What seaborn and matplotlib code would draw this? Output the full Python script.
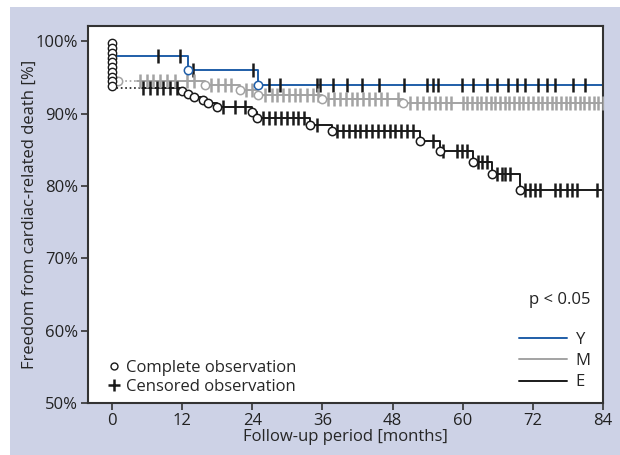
import numpy as np
import pandas as pd
import matplotlib
matplotlib.use("Agg")
import matplotlib.pyplot as plt
from matplotlib.lines import Line2D
from matplotlib.patches import Rectangle
import seaborn as sns

# Data, months / survival in %
groups = ["Y", "M", "E"]
colors = {"Y": "#1f5ea8", "M": "#a3a3a3", "E": "#1a1a1a"}

y_times = [0, 13.0, 25.0, 84]
y_surv = [98.0, 96.0, 94.0, 94.0]
y_events = [13.0, 25.0]
y_cens = [7.9, 11.6, 13.9, 24.1, 26.9, 28.8, 35.1, 35.6, 37.8, 40.2, 42.8, 45.7,
          50.0, 53.9, 54.9, 55.8, 59.9, 61.8, 64.2, 65.9, 67.8, 69.3, 70.7, 72.9,
          74.4, 75.8, 78.9, 80.9]

m_start = 4.3
m_times = [4.3, 15.9, 21.9, 25.0, 35.9, 49.8, 84]
m_surv = [94.5, 94.0, 93.2, 92.6, 92.0, 91.5, 91.5]
m_events = [15.9, 21.9, 25.0, 35.9, 49.8]
m_cens = [4.8, 6.0, 7.0, 8.2, 9.4, 10.8, 12.8, 14.0, 17.0, 18.2, 19.4, 20.4, 23.0,
          24.0, 26.2, 27.3, 28.2, 29.3, 30.2, 31.3, 32.2, 33.3, 34.4, 35.2, 37.0,
          38.0, 39.0, 40.0, 41.0, 42.0, 43.0, 44.0, 45.0, 46.0, 47.0, 49.0, 51.0,
          52.2, 53.2, 54.2, 55.2, 56.2, 57.2, 58.0, 60.0, 60.8, 61.6, 62.4, 63.2,
          64.0, 64.8, 65.6, 66.4, 67.2, 68.0, 68.8, 69.6, 70.4, 71.2, 72.0, 72.8,
          73.6, 74.4, 75.2, 76.0, 76.8, 77.6, 78.4, 79.2, 80.0, 80.8, 81.6, 82.4,
          83.2, 84.0]

e_start = 5.1
e_times = [5.1, 12.0, 13.0, 14.0, 15.5, 16.5, 18.0, 24.0, 24.8, 33.9, 37.6, 52.7,
           56.1, 61.8, 65.0, 69.8, 84]
e_surv = [93.6, 93.1, 92.7, 92.3, 91.9, 91.5, 90.9, 90.2, 89.4, 88.4, 87.6, 86.2,
          84.8, 83.3, 81.6, 79.5, 79.5]
e_events = [12.0, 13.0, 14.0, 15.5, 16.5, 18.0, 24.0, 24.8, 33.9, 37.6, 52.7,
            56.1, 61.8, 65.0, 69.8]
e_cens = [5.3, 6.5, 7.7, 8.7, 9.9, 11.1, 19.0, 21.0, 22.8, 25.8, 26.9, 27.9, 28.9,
          29.9, 31.0, 31.8, 32.8, 35.0, 38.5, 39.5, 40.5, 41.5, 42.5, 43.5, 44.5,
          45.5, 46.5, 47.5, 48.5, 49.5, 50.5, 51.5, 54.9, 56.6, 59.0, 59.9, 60.7,
          62.6, 63.3, 64.2, 65.9, 66.7, 67.2, 68.1, 70.7, 71.5, 72.4, 73.2, 75.8,
          76.6, 77.8, 78.7, 79.6, 83.0]

# circles stacked at time zero
zero_events = [99.7, 99.0, 98.4, 97.7, 97.1, 96.4, 95.8, 95.1, 94.5, 93.8]
m_zero_event = (1.0, 94.5)

curves = {
    "Y": (y_times, y_surv, y_events, y_cens),
    "M": (m_times, m_surv, m_events, m_cens),
    "E": (e_times, e_surv, e_events, e_cens),
}


def surv_at(times, surv, t):
    i = np.searchsorted(times, t, side="right") - 1
    return np.array(surv)[np.clip(i, 0, len(surv) - 1)]


rows = []
for g in groups:
    for t, s in zip(curves[g][0], curves[g][1]):
        rows.append({"t": t, "s": s, "group": g})
df = pd.DataFrame(rows)

sns.set_style("ticks")
plt.rcParams["font.family"] = ["Open Sans", "DejaVu Sans"]
fs = 12

fig = plt.figure(figsize=(6.2, 4.55), dpi=100, facecolor="white")
fig.patches.append(Rectangle((10 / 620, 0), 1 - 10 / 620, 1 - 7 / 455,
                             transform=fig.transFigure, facecolor="#cdd2e6",
                             edgecolor="none", zorder=-10))
ax = fig.add_axes([88 / 620, 52 / 455, 515 / 620, 377 / 455])
ax.set_facecolor("white")

# dotted lead-ins from time zero
ax.plot([0, m_start], [m_surv[0], m_surv[0]], ls=":", color=colors["M"], lw=1.2)
ax.plot([0, e_start], [e_surv[0], e_surv[0]], ls=":", color=colors["E"], lw=1.2)

sns.lineplot(data=df, x="t", y="s", hue="group", palette=colors,
             drawstyle="steps-post", estimator=None, lw=1.4, ax=ax, legend=False,
             hue_order=groups)

for g in groups:
    times, surv, ev, cens = curves[g]
    cc = "#1a1a1a" if g == "Y" else colors[g]
    ax.plot(cens, surv_at(times, surv, cens), ls="none", marker="|", ms=10,
            mew=1.8, color=cc, zorder=4)
    ev_y = [surv_at(times, surv, t) for t in ev]
    ax.plot(ev, ev_y, ls="none", marker="o", ms=6, mfc="white",
            mec=colors[g], mew=1.1, zorder=5)

ax.plot(*m_zero_event, ls="none", marker="o", ms=6, mfc="white",
        mec=colors["M"], mew=1.1, zorder=5)
ax.plot([0] * len(zero_events), zero_events, ls="none", marker="o", ms=6,
        mfc="white", mec="#1a1a1a", mew=1.0, zorder=6)

ax.set_xlim(-4.1, 84)
ax.set_ylim(50, 102.1)
ax.set_xticks(range(0, 85, 12))
ax.set_yticks(range(50, 101, 10))
ax.set_yticklabels([f"{v}%" for v in range(50, 101, 10)])
ax.tick_params(direction="out", length=5, width=1.2, color="#333333",
               labelsize=fs, labelcolor="#222222", pad=2)
for sp in ax.spines.values():
    sp.set_linewidth(1.5)
    sp.set_color("#333333")
ax.set_xlabel("Follow-up period [months]", fontsize=fs, labelpad=0)
ax.set_ylabel("Freedom from cardiac-related death [%]", fontsize=fs, labelpad=-1.5)

# observation type key
obs_handles = [
    Line2D([], [], ls="none", marker="o", ms=5, mfc="white", mec="#1a1a1a", mew=1.0),
    Line2D([], [], ls="none", marker="+", ms=8, mec="#1a1a1a", mew=1.8),
]
leg1 = ax.legend(obs_handles, ["Complete observation", "Censored observation"],
                 loc="lower left", frameon=False, handlelength=0.6, fontsize=fs,
                 handletextpad=0.4, labelspacing=0.15, borderaxespad=0.1,
                 bbox_to_anchor=(0.025, 0.0))
ax.add_artist(leg1)

ax.text(0.975, 0.273, "p < 0.05", transform=ax.transAxes, ha="right",
        va="center", fontsize=fs, color="#222222")
grp_handles = [Line2D([], [], color=colors[g], lw=1.4) for g in groups]
ax.legend(grp_handles, groups, loc="lower right",
          frameon=False, handlelength=2.9, handletextpad=0.5, labelspacing=0.32,
          borderaxespad=0.35, fontsize=fs)

fig.savefig("out.png", dpi=100, facecolor=fig.get_facecolor())
